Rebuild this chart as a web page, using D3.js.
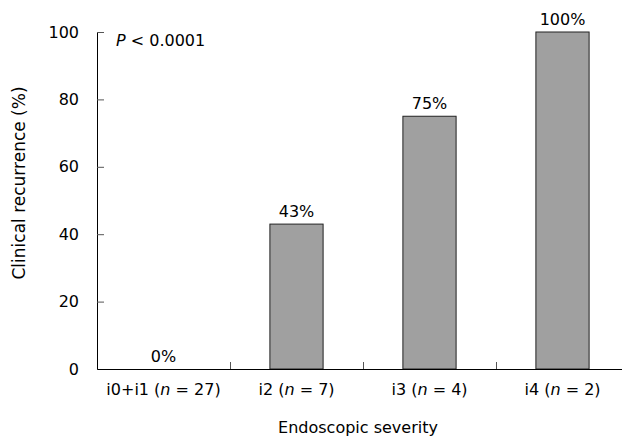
<!DOCTYPE html>
<html lang="en">
<head>
  <meta charset="UTF-8">
  <title>Clinical recurrence by endoscopic severity</title>
  <script src="https://cdn.jsdelivr.net/npm/d3@7"></script>
  <style>
    body { margin: 0; background: #fff; }
    text { font-family: "DejaVu Sans", Verdana, sans-serif; fill: #000; }
  </style>
</head>
<body>
  <div id="container"></div>
  <script>
    const groups = ["i0+i1", "i2", "i3", "i4"];
    const nValues = [27, 7, 4, 2];
    const recurrence = [0, 43, 75, 100];
    const yTicks = [0, 20, 40, 60, 80, 100];

    const width = 622;
    const height = 437;
    const fontSize = 16;

    const svg = d3.select("#container")
      .append("svg")
      .attr("width", width)
      .attr("height", height);

    // scales
    const xScale = d3.scaleBand()
      .domain(groups)
      .range([97, 629])
      .paddingInner(0.6)
      .paddingOuter(0.3);

    const xOuter = d3.scaleBand()
      .domain(groups)
      .range([97, 629]);

    const yScale = d3.scaleLinear()
      .domain([0, 100])
      .range([369, 32]);

    // bars
    svg.selectAll(".bar")
      .data(groups)
      .enter()
      .append("rect")
      .attr("class", "bar")
      .attr("x", d => xScale(d))
      .attr("y", (d, i) => yScale(recurrence[i]))
      .attr("width", xScale.bandwidth())
      .attr("height", (d, i) => yScale(0) - yScale(recurrence[i]))
      .attr("fill", "#a0a0a0")
      .attr("stroke", "#222")
      .attr("stroke-width", 1);

    // value labels
    svg.selectAll(".value")
      .data(groups)
      .enter()
      .append("text")
      .attr("class", "value")
      .attr("x", d => xScale(d) + xScale.bandwidth() / 2)
      .attr("y", (d, i) => yScale(recurrence[i]) - 7)
      .attr("text-anchor", "middle")
      .style("font-size", fontSize + "px")
      .text((d, i) => recurrence[i] + "%");

    // y axis
    const yAxis = svg.append("g")
      .attr("transform", "translate(97,0)")
      .call(d3.axisLeft(yScale).tickValues(yTicks).tickSize(0).tickPadding(18));
    yAxis.select(".domain").attr("stroke", "#000").attr("d", `M0.5,${yScale(100)}V${yScale(0)}`);
    yAxis.selectAll(".tick text").style("font-size", fontSize + "px");
    yAxis.selectAll(".tick").append("line")
      .attr("x1", 0).attr("x2", 7)
      .attr("stroke", "#555");

    // x axis
    const xAxis = svg.append("g")
      .attr("transform", `translate(0,${yScale(0)})`)
      .call(d3.axisBottom(xOuter).tickSize(0).tickPadding(15)
        .tickFormat(() => ""));
    xAxis.select(".domain").attr("stroke", "#000");

    // category labels with italic n
    xAxis.selectAll(".tick text").each(function(d, i) {
      const t = d3.select(this).style("font-size", fontSize + "px");
      t.append("tspan").text(d + " (");
      t.append("tspan").style("font-style", "italic").text("n");
      t.append("tspan").text(" = " + nValues[i] + ")");
    });

    // separator ticks between categories
    svg.selectAll(".sep")
      .data(groups.slice(1))
      .enter()
      .append("line")
      .attr("class", "sep")
      .attr("x1", d => xOuter(d) + 0.5)
      .attr("x2", d => xOuter(d) + 0.5)
      .attr("y1", yScale(0))
      .attr("y2", yScale(0) - 7)
      .attr("stroke", "#555");

    // axis titles
    svg.append("text")
      .attr("x", 358)
      .attr("y", 433)
      .attr("text-anchor", "middle")
      .style("font-size", fontSize + "px")
      .text("Endoscopic severity");

    svg.append("text")
      .attr("transform", "rotate(-90)")
      .attr("x", -183)
      .attr("y", 25)
      .attr("text-anchor", "middle")
      .style("font-size", "17px")
      .text("Clinical recurrence (%)");

    // p-value annotation
    const p = svg.append("text")
      .attr("x", 116)
      .attr("y", 46)
      .style("font-size", fontSize + "px");
    p.append("tspan").style("font-style", "italic").text("P");
    p.append("tspan").text(" < 0.0001");
  </script>
</body>
</html>
